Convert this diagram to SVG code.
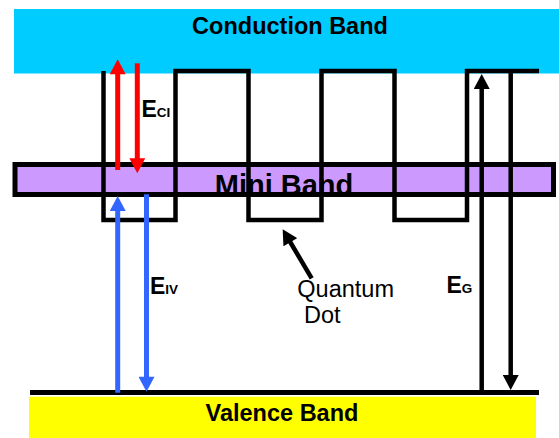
<svg xmlns="http://www.w3.org/2000/svg" width="559" height="438" viewBox="0 0 559 438">
  <style>
    .band-title { font-family: "Liberation Sans", Arial, sans-serif; font-weight: bold; font-size: 23.5px; fill: #000; text-anchor: middle; }
    .lbl { font-family: "Liberation Sans", Arial, sans-serif; font-weight: bold; fill: #000; }
    .qd { font-family: "Liberation Sans", Arial, sans-serif; font-size: 23.5px; fill: #000; }
    .red { stroke: #FF0000; stroke-width: 5; fill: none; }
    .blue { stroke: #3366FF; stroke-width: 5; fill: none; }
    .blk { stroke: #000; stroke-width: 4.5; fill: none; }
  </style>
  <defs>
    <marker id="ah-red" markerUnits="userSpaceOnUse" markerWidth="16" markerHeight="16" viewBox="0 0 15 16" refX="2" refY="8" orient="auto">
      <path d="M0,0 L15,8 L0,16 z" fill="#FF0000"/>
    </marker>
    <marker id="ah-blue" markerUnits="userSpaceOnUse" markerWidth="16" markerHeight="16" viewBox="0 0 15 16" refX="2" refY="8" orient="auto">
      <path d="M0,0 L15,8 L0,16 z" fill="#3366FF"/>
    </marker>
    <marker id="ah-blk" markerUnits="userSpaceOnUse" markerWidth="16" markerHeight="16" viewBox="0 0 15 16" refX="2" refY="8" orient="auto">
      <path d="M0,0 L15,8 L0,16 z" fill="#000"/>
    </marker>
  </defs>

  <g id="conduction-band">
    <rect x="14" y="9" width="545" height="64.5" fill="#00CCFF"/>
    <text class="band-title" x="290" y="34">Conduction Band</text>
  </g>

  <g id="valence-band">
    <rect x="29" y="396.7" width="507" height="41.3" fill="#FFFF00"/>
    <line x1="30" y1="392.5" x2="539" y2="392.5" stroke="#000" stroke-width="5"/>
    <text class="band-title" x="282" y="420.5">Valence Band</text>
  </g>

  <g id="mini-band">
    <rect x="15" y="164.5" width="538.5" height="30" fill="#CC99FF"/>
    <text class="lbl" x="284" y="194.8" font-size="29" text-anchor="middle">Mini Band</text>
    <rect x="15" y="164.5" width="538.5" height="30" fill="none" stroke="#000" stroke-width="5"/>
  </g>

  <g id="potential-profile">
    <path class="blk" d="M103.5,71 V220 H175.5 V71 H248.5 V220 H321.5 V71 H394.5 V220 H467 V71 H539"/>
  </g>

  <g id="connectors">
    <line class="red" x1="117.7" y1="170" x2="117.7" y2="72.3" marker-end="url(#ah-red)"/>
    <line class="red" x1="137.3" y1="63.3" x2="137.3" y2="160.3" marker-end="url(#ah-red)"/>
    <line class="blue" x1="117.7" y1="392.7" x2="117.7" y2="209" marker-end="url(#ah-blue)"/>
    <line class="blue" x1="146.5" y1="194.3" x2="146.5" y2="378.7" marker-end="url(#ah-blue)"/>
    <line class="blk" x1="481.7" y1="390" x2="481.7" y2="87" marker-end="url(#ah-blk)"/>
    <line class="blk" x1="510.7" y1="70" x2="510.7" y2="377" marker-end="url(#ah-blk)"/>
    <line class="blk" x1="311.7" y1="278.3" x2="289.3" y2="240.5" stroke-width="4" marker-end="url(#ah-blk)"/>
  </g>

  <g id="labels">
    <text class="lbl" x="141.5" y="116.7" font-size="23">E<tspan font-size="13.5">CI</tspan></text>
    <text class="lbl" x="150" y="294" font-size="23">E<tspan font-size="13.5">IV</tspan></text>
    <text class="lbl" x="446.5" y="293.3" font-size="23">E<tspan font-size="13.5">G</tspan></text>
    <text class="qd" x="297.3" y="296.7">Quantum</text>
    <text class="qd" x="304" y="323.3">Dot</text>
  </g>
</svg>
